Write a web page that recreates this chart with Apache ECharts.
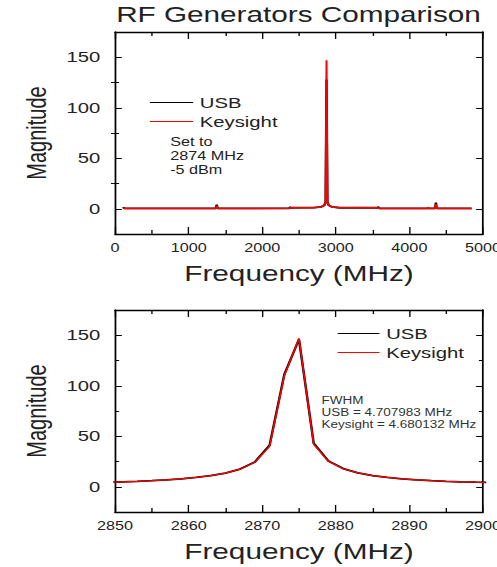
<!DOCTYPE html>
<html>
<head>
<meta charset="utf-8">
<title>RF Generators Comparison</title>
<script src="https://cdn.jsdelivr.net/npm/echarts@6/dist/echarts.min.js"></script>
<style>
  html, body { margin: 0; padding: 0; background: #fff; overflow: hidden; }
  /* The figure is laid out at a narrower width and widened horizontally,
     giving the broad lettering of the exported plot. */
  #chart { width: 368px; height: 567px; transform: scaleX(1.3505); transform-origin: 0 0; }
</style>
</head>
<body>
<div id="chart"></div>
<script>
// Full sweep, 0-5000 MHz
const overviewFreq = [110, 120, 130, 1370, 1382, 1394, 2370, 2380, 2390, 2700, 2800, 2845, 2862, 2874, 2886, 2903, 2950, 3050, 3565, 3577, 3590, 4245, 4257, 4269, 4350, 4361, 4372, 4846];
const overviewUSB = [0.3, 1.2, 0.3, 0.3, 4.0, 0.3, 0.4, 1.8, 1.0, 1.1, 1.8, 3.5, 7.0, 128, 7.0, 3.5, 1.8, 1.0, 1.0, 1.8, 0.3, 0.3, 0.8, 0.3, 0.3, 6.0, 0.3, 0.3];
const overviewKeysight = [0.3, 1.0, 0.3, 0.3, 3.0, 0.3, 0.4, 1.0, 1.0, 1.1, 1.8, 3.5, 7.0, 147, 7.0, 3.5, 1.8, 1.0, 1.0, 1.0, 0.3, 0.3, 1.5, 0.3, 0.3, 4.5, 0.3, 0.3];

// Close-up around the carrier, 2850-2900 MHz
const zoomFreq = [2849, 2851, 2853, 2855, 2857, 2859, 2861, 2863, 2865, 2867, 2869, 2871, 2873, 2875, 2877, 2879, 2881, 2883, 2885, 2887, 2889, 2891, 2893, 2895, 2897, 2899, 2901];
const zoomUSB = [4.4, 4.9, 5.4, 6.0, 6.8, 7.8, 9.2, 11.0, 13.5, 17.5, 24.5, 41, 111, 146, 43, 25.5, 18, 13.8, 11, 9.2, 7.8, 6.8, 6.0, 5.4, 4.9, 4.5, 4.2];
const zoomKeysight = [4.4, 4.9, 5.4, 6.0, 6.8, 7.8, 9.2, 11.0, 13.5, 17.4, 24.2, 40, 110, 147, 42, 25.2, 17.8, 13.7, 11, 9.2, 7.8, 6.8, 6.0, 5.4, 4.9, 4.5, 4.2];

// Axis ranges and tick marks
const overviewXTicks = { min: 0, max: 5000, interval: 1000 };
const zoomXTicks = { min: 2850, max: 2900, interval: 10 };
const yRange = { min: -25, max: 175 };
const yMajorTicks = [0, 50, 100, 150];
const yMinorTicks = [25, 75, 125];

const seriesNames = ['USB', 'Keysight'];
const seriesColors = ['#000000', '#ff0000'];

const FONT = "'Liberation Sans', Arial, sans-serif";
const TEXT = '#222';

const grids = [
  { left: 85.2, right: 10.4, top: 32, height: 202, outerBoundsMode: 'none', containLabel: false },
  { left: 85.2, right: 10.4, top: 310, height: 202, outerBoundsMode: 'none', containLabel: false }
];

function pairs(xs, ys) { return xs.map((x, i) => [x, ys[i]]); }
const plain = v => String(v);

const xAxis = [];
const yAxis = [];
[overviewXTicks, zoomXTicks].forEach((t, g) => {
  const base = {
    gridIndex: g, type: 'value', min: t.min, max: t.max, interval: t.interval,
    axisLine: { show: true, onZero: false, lineStyle: { color: '#000', width: 1.3 } },
    axisTick: { show: true, inside: true, length: 7, lineStyle: { color: '#000', width: 1 } },
    minorTick: { show: true, splitNumber: 2, length: 4, lineStyle: { color: '#000', width: 1 } },
    splitLine: { show: false }
  };
  xAxis.push(Object.assign({}, base, {
    position: 'bottom',
    axisLabel: { show: true, fontSize: 12, margin: 8, color: TEXT, fontFamily: FONT, formatter: plain, hideOverlap: false },
    name: 'Frequency (MHz)', nameLocation: 'middle', nameGap: 28,
    nameTextStyle: { fontSize: 22, color: TEXT, fontFamily: FONT }
  }));
  xAxis.push(Object.assign({}, base, { position: 'top', axisLabel: { show: false } }));

  const ybase = {
    gridIndex: g, type: 'value', min: yRange.min, max: yRange.max, interval: 25,
    splitLine: { show: false }
  };
  // left: line, major ticks and labels
  yAxis.push(Object.assign({}, ybase, {
    position: 'left',
    axisLine: { show: true, onZero: false, lineStyle: { color: '#000', width: 1.3 } },
    axisTick: { show: true, inside: true, length: 5, customValues: yMajorTicks, lineStyle: { color: '#000', width: 1 } },
    axisLabel: { show: true, customValues: yMajorTicks, fontSize: 15, margin: 11, color: TEXT, fontFamily: FONT, formatter: plain },
    name: 'Magnitude', nameLocation: 'middle', nameGap: 48, nameRotate: 90,
    nameTextStyle: { fontSize: 20, color: TEXT, fontFamily: FONT }
  }));
  // left minor ticks
  yAxis.push(Object.assign({}, ybase, {
    position: 'left',
    axisLine: { show: false },
    axisTick: { show: true, inside: true, length: 3, customValues: yMinorTicks, lineStyle: { color: '#000', width: 1 } },
    axisLabel: { show: false }
  }));
  // right: line and major ticks
  yAxis.push(Object.assign({}, ybase, {
    position: 'right',
    axisLine: { show: true, onZero: false, lineStyle: { color: '#000', width: 1.3 } },
    axisTick: { show: true, inside: true, length: 5, customValues: yMajorTicks, lineStyle: { color: '#000', width: 1 } },
    axisLabel: { show: false }
  }));
  // right minor ticks
  yAxis.push(Object.assign({}, ybase, {
    position: 'right',
    axisLine: { show: false },
    axisTick: { show: true, inside: true, length: 3, customValues: yMinorTicks, lineStyle: { color: '#000', width: 1 } },
    axisLabel: { show: false }
  }));
});

function lineSeries(name, color, width, g, data, z) {
  return {
    name, type: 'line', xAxisIndex: g * 2, yAxisIndex: g * 4,
    data, symbol: 'none', showSymbol: false, animation: false, z,
    lineStyle: { color, width }, itemStyle: { color }
  };
}

const series = [
  lineSeries(seriesNames[0], seriesColors[0], 1.8, 0, pairs(overviewFreq, overviewUSB), 2),
  lineSeries(seriesNames[1], seriesColors[1], 1.5, 0, pairs(overviewFreq, overviewKeysight), 3),
  lineSeries(seriesNames[0], seriesColors[0], 1.8, 1, pairs(zoomFreq, zoomUSB), 2),
  lineSeries(seriesNames[1], seriesColors[1], 1.2, 1, pairs(zoomFreq, zoomKeysight), 3)
];

// Legend keys are plain short strokes
const strokeIcon = 'path://M0,0 L32,0 L32,1.2 L0,1.2 Z';

function legendAt(left, top, itemWidth) {
  return {
    data: seriesNames, orient: 'vertical', left, top, padding: 0,
    icon: strokeIcon, itemWidth, itemHeight: 14, itemGap: 4, selectedMode: false,
    textStyle: { fontSize: 15, color: TEXT, fontFamily: FONT }
  };
}

const chart = echarts.init(document.getElementById('chart'), null, { renderer: 'svg' });
chart.setOption({
  animation: false,
  backgroundColor: '#fff',
  textStyle: { fontFamily: FONT },
  title: {
    text: 'RF Generators Comparison', left: 86, top: 3, padding: 0,
    textStyle: { fontSize: 22, fontWeight: 'normal', color: TEXT, fontFamily: FONT }
  },
  grid: grids,
  xAxis, yAxis, series,
  legend: [legendAt(111, 95, 32), legendAt(250, 326, 31)],
  graphic: [
    {
      type: 'text', left: 126, top: 135,
      style: { text: 'Set to\n2874 MHz\n-5 dBm', fontSize: 12, lineHeight: 14, fill: TEXT, fontFamily: FONT }
    },
    {
      type: 'text', left: 238, top: 395,
      style: { text: 'FWHM\nUSB = 4.707983 MHz\nKeysight = 4.680132 MHz', fontSize: 10, lineHeight: 12, fill: '#333', fontFamily: FONT }
    }
  ]
});
</script>
</body>
</html>
